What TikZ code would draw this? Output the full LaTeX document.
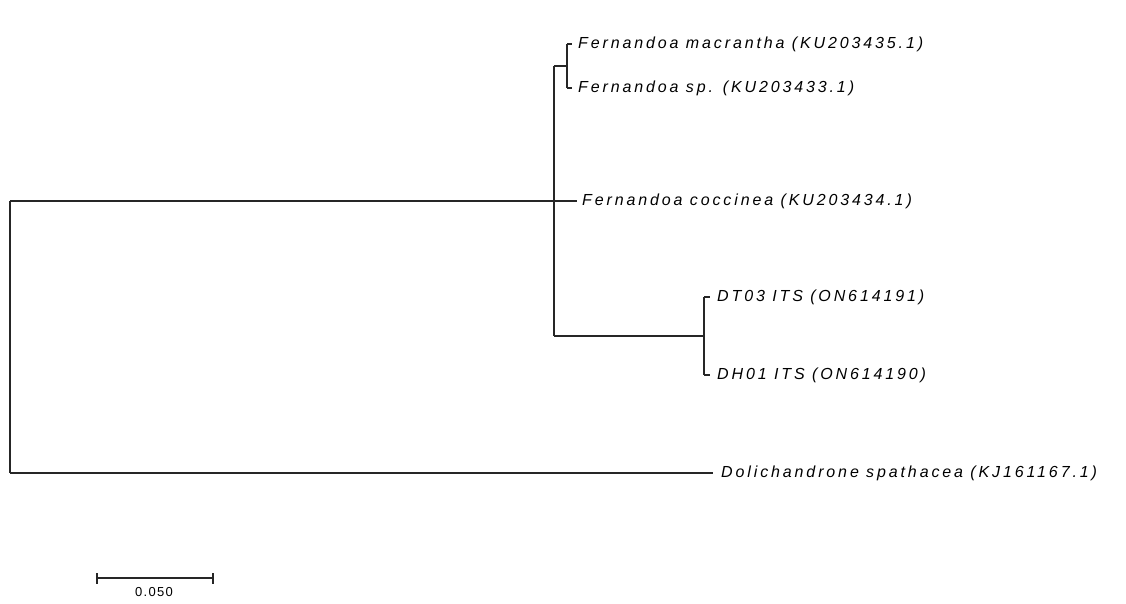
\documentclass[tikz,border=0pt]{standalone}
\usepackage{fontspec}
\setmainfont{Liberation Sans}
\newfontfamily\labfont[LetterSpace=18]{Liberation Sans}
\newfontfamily\scalefont[LetterSpace=10]{Liberation Sans}
\begin{document}
\begin{tikzpicture}[x=1pt,y=-1pt,
  br/.style={line width=1.2pt,black!85},
  lab/.style={anchor=west,inner sep=0pt,font=\labfont\fontsize{16}{18}\selectfont\itshape}]
\useasboundingbox (0,0) rectangle (1126,603);
% internal nodes
\coordinate (root) at (10,337);
\coordinate (n1) at (554,201);
\coordinate (n2) at (567,66);
\coordinate (n3) at (704,336);
% tips
\coordinate (t1) at (572,44);
\coordinate (t2) at (572,88);
\coordinate (t3) at (577,201);
\coordinate (t4) at (710,297);
\coordinate (t5) at (710,375);
\coordinate (t6) at (713,473);
% branches
\draw[br] (10,201) -- (10,473);
\draw[br] (10,201) -- (t3);
\draw[br] (10,473) -- (t6);
\draw[br] (554,66) -- (554,336);
\draw[br] (554,66) -- (n2);
\draw[br] (567,44) -- (567,88);
\draw[br] (567,44) -- (t1);
\draw[br] (567,88) -- (t2);
\draw[br] (554,336) -- (n3);
\draw[br] (704,297) -- (704,375);
\draw[br] (704,297) -- (t4);
\draw[br] (704,375) -- (t5);
% labels
\node[lab] (l1) at ([xshift=6pt]t1) {Fernandoa macrantha (KU203435.1)};
\node[lab] (l2) at ([xshift=6pt]t2) {Fernandoa sp. (KU203433.1)};
\node[lab] (l3) at ([xshift=5pt]t3) {Fernandoa coccinea (KU203434.1)};
\node[lab] (l4) at ([xshift=7pt]t4) {DT03 ITS (ON614191)};
\node[lab] (l5) at ([xshift=7pt]t5) {DH01 ITS (ON614190)};
\node[lab] (l6) at ([xshift=8pt]t6) {Dolichandrone spathacea (KJ161167.1)};
% scale bar
\coordinate (s1) at (97,578);
\coordinate (s2) at (213,578);
\draw[br] (s1) -- (s2);
\draw[br] (97,573) -- (97,584);
\draw[br] (213,573) -- (213,584);
\node[inner sep=0pt,font=\scalefont\fontsize{13}{15}\selectfont] (sl) at (154,592) {0.050};
\end{tikzpicture}
\end{document}
